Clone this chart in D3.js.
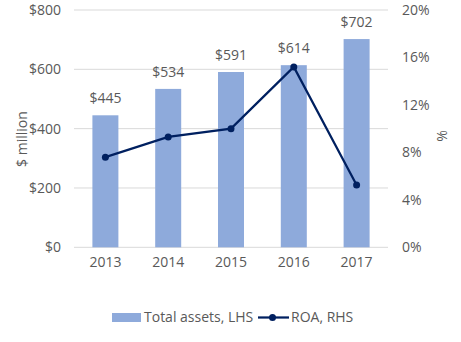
<!DOCTYPE html>
<html><head><meta charset="utf-8">
<script src="https://cdn.jsdelivr.net/npm/d3@7"></script>
<style>body{margin:0;background:#fff}svg{display:block}text{font-family:"Open Sans",sans-serif;fill:#595959}</style>
</head><body>
<svg id="c" width="461" height="342"></svg>
<script>
const years = ["2013","2014","2015","2016","2017"];
const assets = [445,534,591,614,702];
const roa = [7.6,9.3,10.0,15.2,5.25];
const leftTicks = [0,200,400,600,800];
const rightTicks = [0,4,8,12,16,20];

const svg = d3.select("#c");
const L = 74, R = 388, T = 10, B = 247.3;
const x = d3.scaleBand().domain(years).range([L,R]).paddingInner(0.586).paddingOuter(0.293);
const y = d3.scaleLinear().domain([0,800]).range([B,T]);
const y2 = d3.scaleLinear().domain([0,20]).range([B,T]);

// gridlines
svg.append("g").selectAll("line").data(leftTicks).join("line")
  .attr("x1",L).attr("x2",R).attr("y1",d=>y(d)).attr("y2",d=>y(d))
  .attr("stroke","#d9d9d9").attr("stroke-width",1);

// left axis
const ga = svg.append("g").attr("transform",`translate(${L},0)`)
  .call(d3.axisLeft(y).tickValues(leftTicks).tickSize(0).tickPadding(13).tickFormat(d=>"$"+d));
ga.select(".domain").remove();
ga.selectAll("text").style("font-size","14px").attr("fill","#595959");

// right axis
const gr = svg.append("g").attr("transform",`translate(${R},0)`)
  .call(d3.axisRight(y2).tickValues(rightTicks).tickSize(0).tickPadding(14).tickFormat(d=>d+"%"));
gr.select(".domain").remove();
gr.selectAll("text").style("font-size","14px").attr("fill","#595959");

// x axis
const gx = svg.append("g").attr("transform",`translate(0,${B})`)
  .call(d3.axisBottom(x).tickSize(0).tickPadding(10));
gx.select(".domain").remove();
gx.selectAll("text").style("font-size","14px").attr("fill","#595959");

// bars
svg.append("g").selectAll("rect").data(assets).join("rect")
  .attr("x",(d,i)=>x(years[i])).attr("width",x.bandwidth())
  .attr("y",d=>y(d)).attr("height",d=>B-y(d)).attr("fill","#8eaadb");

// data labels
svg.append("g").selectAll("text").data(assets).join("text")
  .attr("x",(d,i)=>x(years[i])+x.bandwidth()/2).attr("y",d=>y(d)-12)
  .attr("text-anchor","middle").style("font-size","14px").text(d=>"$"+d);

// line
const line = d3.line().x((d,i)=>x(years[i])+x.bandwidth()/2).y(d=>y2(d));
svg.append("path").datum(roa).attr("d",line).attr("fill","none")
  .attr("stroke","#002060").attr("stroke-width",2.25);
svg.append("g").selectAll("circle").data(roa).join("circle")
  .attr("cx",(d,i)=>x(years[i])+x.bandwidth()/2).attr("cy",d=>y2(d)).attr("r",3.5).attr("fill","#002060");

// axis titles
svg.append("text").attr("transform","translate(27,139) rotate(-90)").attr("text-anchor","middle")
  .style("font-size","14px").text("$ million");
svg.append("text").attr("transform","translate(447,136) rotate(-90)").attr("text-anchor","middle")
  .style("font-size","14px").text("%");

// legend
const lg = svg.append("g");
lg.append("rect").attr("x",112).attr("y",313).attr("width",29).attr("height",9).attr("fill","#8eaadb");
lg.append("text").attr("x",144).attr("y",322).style("font-size","14px").text("Total assets, LHS");
lg.append("line").attr("x1",258).attr("x2",289).attr("y1",317.5).attr("y2",317.5).attr("stroke","#002060").attr("stroke-width",2.25);
lg.append("circle").attr("cx",272.5).attr("cy",317.5).attr("r",3.5).attr("fill","#002060");
lg.append("text").attr("x",291).attr("y",322).style("font-size","14px").text("ROA, RHS");
</script>
</body></html>
